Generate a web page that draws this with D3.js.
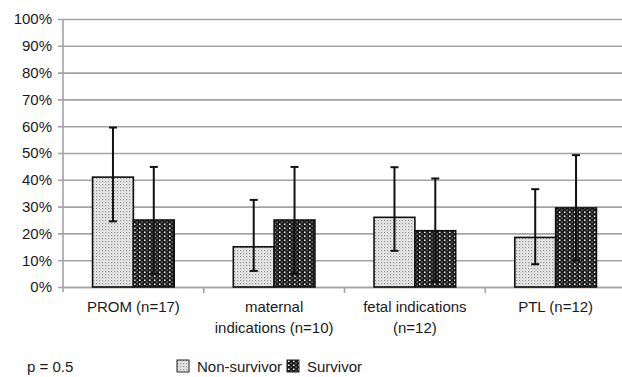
<!DOCTYPE html>
<meta charset="utf-8">
<style>
  body { margin: 0; background: #fff; }
</style>
<script src="https://d3js.org/d3.v7.min.js"></script>
<div id="chart"></div>
<script>
// values (fractions)
const categories = ["PROM (n=17)", "maternal|indications (n=10)", "fetal indications|(n=12)", "PTL (n=12)"];
const groups = ["Non-survivor", "Survivor"];
const nonSurvivor = [0.41, 0.15, 0.26, 0.185];
const nonSurvivorHi = [0.595, 0.325, 0.447, 0.365];
const nonSurvivorLo = [0.245, 0.06, 0.135, 0.085];
const survivor = [0.25, 0.25, 0.21, 0.295];
const survivorHi = [0.448, 0.448, 0.405, 0.492];
const survivorLo = [0.05, 0.05, 0.02, 0.10];
const yTicks = [0, 0.1, 0.2, 0.3, 0.4, 0.5, 0.6, 0.7, 0.8, 0.9, 1.0];

const FONT = '"Liberation Sans", Arial, sans-serif';

var W = 622, H = 377;
var margin = {top: 19, left: 63, bottom: 90};
var plotW = 563, plotH = H - margin.top - margin.bottom;

var svg = d3.select("#chart").append("svg")
    .attr("width", W).attr("height", H)
    .style("font-family", FONT);

// fill patterns
var defs = svg.append("defs");
var p1 = defs.append("pattern").attr("id", "pNon").attr("patternUnits", "userSpaceOnUse")
    .attr("width", 3).attr("height", 3);
p1.append("rect").attr("width", 3).attr("height", 3).attr("fill", "#eeeeee");
p1.append("rect").attr("x", 0).attr("y", 0).attr("width", 1.2).attr("height", 1.2).attr("fill", "#8a8a8a");
p1.append("rect").attr("x", 1.5).attr("y", 1.5).attr("width", 1).attr("height", 1).attr("fill", "#b5b5b5");

var p2 = defs.append("pattern").attr("id", "pSur").attr("patternUnits", "userSpaceOnUse")
    .attr("width", 5).attr("height", 4);
p2.append("rect").attr("width", 5).attr("height", 4).attr("fill", "#1b1b1b");
p2.append("rect").attr("x", 1).attr("y", 0.5).attr("width", 1.5).attr("height", 1.5).attr("fill", "#ffffff");
p2.append("rect").attr("x", 3.5).attr("y", 2.5).attr("width", 1.2).attr("height", 1.2).attr("fill", "#9a9a9a");

var g = svg.append("g").attr("transform", `translate(${margin.left},${margin.top})`);

var y = d3.scaleLinear().domain([0, 1]).range([plotH, 0]);
var x0 = d3.scaleBand().domain(categories).range([0, plotW]).paddingInner(0).paddingOuter(0);
var x1 = d3.scaleBand().domain(groups).range([x0.bandwidth() * 0.21, x0.bandwidth() * 0.79]);

// gridlines + y axis
var yAxis = d3.axisLeft(y).tickValues(yTicks).tickSize(-plotW - 5).tickPadding(6)
    .tickFormat(d3.format(".0%"));
g.append("g").attr("transform", "translate(-5,0)").call(yAxis)
  .attr("font-family", null).attr("font-size", null)
  .call(s => s.select(".domain").remove())
  .call(s => s.selectAll(".tick line").attr("stroke", "#a3a3a3").attr("stroke-width", 1.6))
  .call(s => s.selectAll(".tick text").style("font-size", "15px").attr("fill", "#1a1a1a"));

g.append("line").attr("x1", 0).attr("x2", 0).attr("y1", 0).attr("y2", plotH + 5)
  .attr("stroke", "#a3a3a3").attr("stroke-width", 1.6);

// x axis with boundary ticks
var xAxis = d3.axisBottom(x0).tickSize(0).tickFormat("");
g.append("g").attr("transform", `translate(0,${plotH})`).call(xAxis)
  .call(s => s.select(".domain").attr("stroke", "#a3a3a3").attr("stroke-width", 1.6));
g.selectAll(".bound").data(categories.slice(1)).join("line")
  .attr("x1", d => x0(d)).attr("x2", d => x0(d))
  .attr("y1", plotH).attr("y2", plotH + 6)
  .attr("stroke", "#a3a3a3").attr("stroke-width", 1.6);

// category labels
g.selectAll(".cat").data(categories).join("text")
  .attr("text-anchor", "middle")
  .attr("x", d => x0(d) + x0.bandwidth() / 2)
  .attr("y", plotH + 25)
  .attr("fill", "#1a1a1a")
  .style("font-size", "15px")
  .each(function(d) {
    var lines = d.split("|");
    d3.select(this).selectAll("tspan").data(lines).join("tspan")
      .attr("x", x0(d) + x0.bandwidth() / 2)
      .attr("dy", (l, i) => i === 0 ? 0 : 21)
      .text(l => l);
  });

// bars
var rows = categories.map((c, i) => [
  {cat: c, grp: groups[0], v: nonSurvivor[i], hi: nonSurvivorHi[i], lo: nonSurvivorLo[i], fill: "url(#pNon)"},
  {cat: c, grp: groups[1], v: survivor[i], hi: survivorHi[i], lo: survivorLo[i], fill: "url(#pSur)"}
]).flat();

g.selectAll(".bar").data(rows).join("rect")
  .attr("x", d => x0(d.cat) + x1(d.grp))
  .attr("width", x1.bandwidth())
  .attr("y", d => y(d.v))
  .attr("height", d => y(0) - y(d.v))
  .attr("fill", d => d.fill)
  .attr("stroke", "#111").attr("stroke-width", 1.6);

// error bars
var eb = g.selectAll(".err").data(rows).join("g");
eb.append("line")
  .attr("x1", d => x0(d.cat) + x1(d.grp) + x1.bandwidth() / 2)
  .attr("x2", d => x0(d.cat) + x1(d.grp) + x1.bandwidth() / 2)
  .attr("y1", d => y(d.hi)).attr("y2", d => y(d.lo))
  .attr("stroke", "#111").attr("stroke-width", 2);
eb.selectAll("line.cap").data(d => [[d, d.hi], [d, d.lo]]).join("line")
  .attr("class", "cap")
  .attr("x1", e => x0(e[0].cat) + x1(e[0].grp) + x1.bandwidth() / 2 - 4)
  .attr("x2", e => x0(e[0].cat) + x1(e[0].grp) + x1.bandwidth() / 2 + 4)
  .attr("y1", e => y(e[1])).attr("y2", e => y(e[1]))
  .attr("stroke", "#111").attr("stroke-width", 2);

// footer: p value and legend
svg.append("text").attr("x", 27).attr("y", 372).attr("fill", "#1a1a1a")
  .style("font-size", "15px").text("p = 0.5");
var legX = [177, 287];
var leg = svg.selectAll(".leg").data(groups).join("g")
  .attr("transform", (d, i) => `translate(${legX[i]},360)`);
leg.append("rect").attr("width", 12).attr("height", 12)
  .attr("fill", (d, i) => i === 0 ? "url(#pNon)" : "url(#pSur)")
  .attr("stroke", "#222").attr("stroke-width", 1);
leg.append("text").attr("x", 20).attr("y", 12).attr("fill", "#1a1a1a")
  .style("font-size", "15px").text(d => d);
</script>
